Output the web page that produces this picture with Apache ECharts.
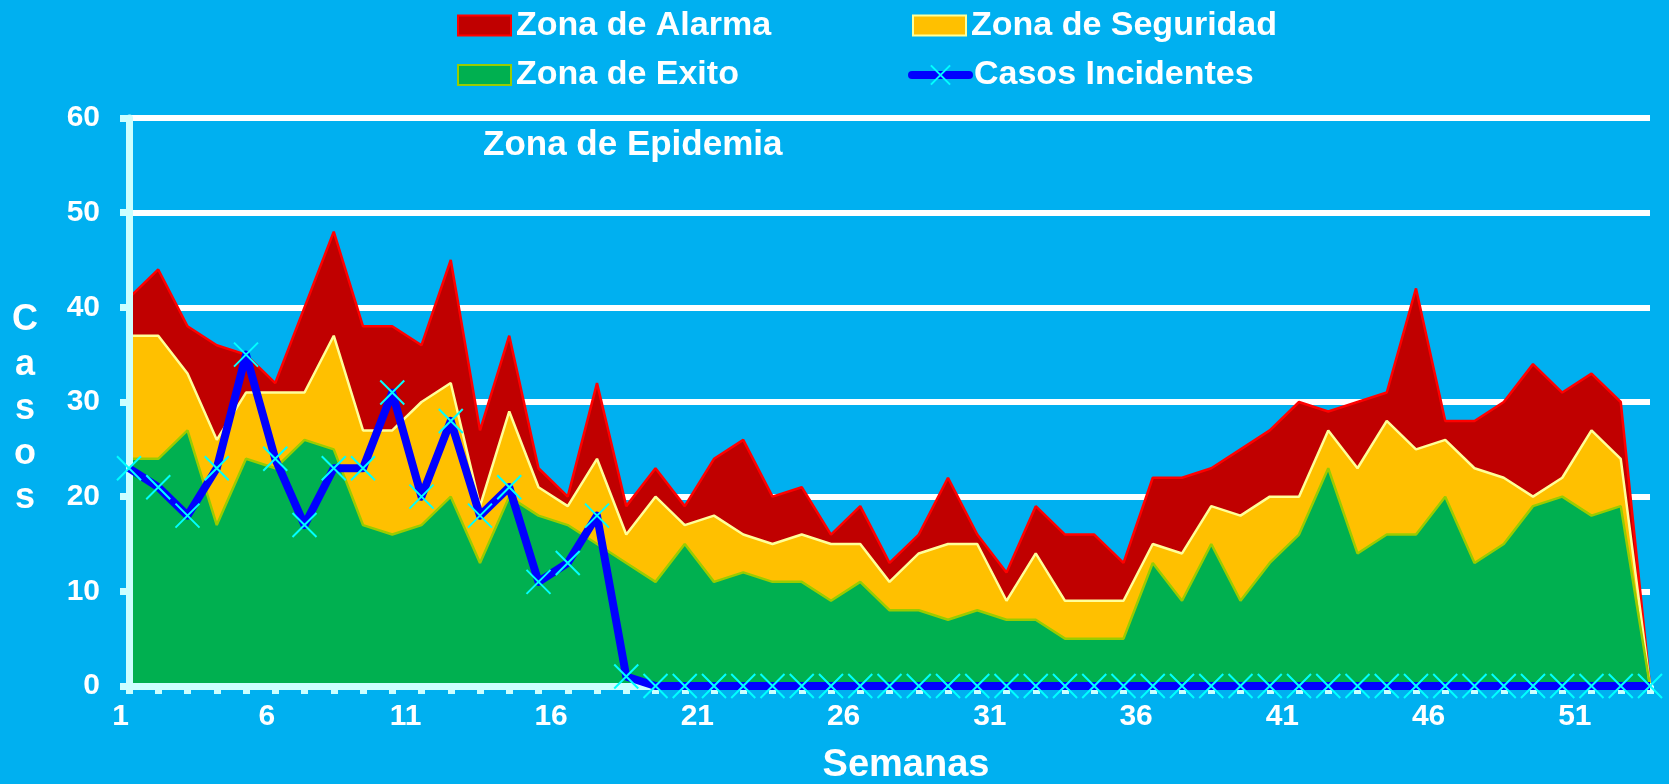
<!DOCTYPE html>
<html>
<head>
<meta charset="utf-8">
<script src="https://cdn.jsdelivr.net/npm/echarts@6/dist/echarts.min.js"></script>
<style>
html,body{margin:0;padding:0;background:#00B0F0;}
#c{width:1669px;height:784px;}
</style>
</head>
<body>
<div id="c"></div>
<script>
// ---- DATA ----
const semanas = ['1','2','3','4','5','6','7','8','9','10','11','12','13','14','15','16','17','18','19','20',
  '21','22','23','24','25','26','27','28','29','30','31','32','33','34','35','36','37','38','39','40',
  '41','42','43','44','45','46','47','48','49','50','51','52','53'];
const zonaAlarma = [41,44,38,36,35,32,40,48,38,38,36,45,27,37,23,20,32,19,23,19,
  24,26,20,21,16,19,13,16,22,16,12,19,16,16,13,22,22,23,25,27,
  30,29,30,31,42,28,28,30,34,31,33,30,0];
const zonaSeguridad = [37,37,33,26,31,31,31,37,27,27,30,32,19,29,21,19,24,16,20,17,
  18,16,15,16,15,15,11,14,15,15,9,14,9,9,9,15,14,19,18,20,
  20,27,23,28,25,26,23,22,20,22,27,24,0];
const zonaExito = [24,24,27,17,24,23,26,25,17,16,17,20,13,20,18,17,15,13,11,15,
  11,12,11,11,9,11,8,8,7,8,7,7,5,5,5,13,9,15,9,13,
  16,23,14,16,16,20,13,15,19,20,18,19,0];
const casosIncidentes = [23,21,18,23,35,24,17,23,23,31,20,28,18,21,11,13,18,1,0,0,
  0,0,0,0,0,0,0,0,0,0,0,0,0,0,0,0,0,0,0,0,
  0,0,0,0,0,0,0,0,0,0,0,0,0];
const yMin = 0, yMax = 60, yStep = 10;

// ---- STYLE ----
const FONT = '"Liberation Sans", Arial, Helvetica, sans-serif';
const AXIS_COLOR = '#CCFFFF';
const crossPath = 'path://M0,0L10,10M10,0L0,10';

const legendBase = {
  padding: 0,
  itemWidth: 53,
  itemHeight: 20,
  selectedMode: false,
  textStyle: {color: '#FFFFFF', fontSize: 34, fontWeight: 'bold', fontFamily: FONT, lineHeight: 34}
};

const chart = echarts.init(document.getElementById('c'), null, {renderer: 'canvas'});
chart.setOption({
  animation: false,
  backgroundColor: '#00B0F0',
  grid: {left: 129, right: 19, top: 118, bottom: 98, containLabel: false},
  legend: [
    Object.assign({}, legendBase, {left: 457, top: 8.5, data: [
      {name: 'Zona de Alarma', icon: 'rect', itemStyle: {color: '#C00000', borderColor: '#FF0000', borderWidth: 2}}]}),
    Object.assign({}, legendBase, {left: 912, top: 8.5, data: [
      {name: 'Zona de Seguridad', icon: 'rect', itemStyle: {color: '#FFC000', borderColor: '#FFFF99', borderWidth: 2}}]}),
    Object.assign({}, legendBase, {left: 457, top: 58, data: [
      {name: 'Zona de Exito', icon: 'rect', itemStyle: {color: '#00B050', borderColor: '#99CC00', borderWidth: 2}}]}),
    Object.assign({}, legendBase, {left: 908, top: 58, itemWidth: 57, itemHeight: 24, data: [
      {name: 'Casos Incidentes', lineStyle: {color: '#0000FF', width: 8, cap: 'round'},
       itemStyle: {color: '#00FFFF', borderColor: '#00FFFF', borderWidth: 2}}]})
  ],
  xAxis: {
    type: 'category',
    data: semanas,
    boundaryGap: false,
    z: 10,
    axisLine: {show: true, lineStyle: {color: AXIS_COLOR, width: 7}},
    axisTick: {show: true, interval: 0, length: 8, lineStyle: {color: AXIS_COLOR, width: 7}},
    axisLabel: {interval: 4, align: 'right', margin: 16, color: '#FFFFFF', fontSize: 30,
      fontWeight: 'bold', fontFamily: FONT, lineHeight: 30},
    splitLine: {show: false}
  },
  yAxis: [
    {
      type: 'value', min: yMin, max: yMax, interval: yStep, position: 'left', z: 0,
      axisLine: {show: false}, axisTick: {show: false}, axisLabel: {show: false},
      splitLine: {show: true, lineStyle: {color: '#FFFFFF', width: 6}}
    },
    {
      type: 'value', min: yMin, max: yMax, interval: yStep, position: 'left', offset: 0, z: 10,
      axisLine: {show: true, lineStyle: {color: AXIS_COLOR, width: 7}},
      axisTick: {show: true, length: 9, lineStyle: {color: AXIS_COLOR, width: 7}},
      axisLabel: {margin: 29, color: '#FFFFFF', fontSize: 30, fontWeight: 'bold', fontFamily: FONT},
      splitLine: {show: false}
    }
  ],
  series: [
    {
      name: 'Zona de Alarma', type: 'line', data: zonaAlarma, yAxisIndex: 0, z: 2,
      symbol: 'none', emphasis: {disabled: true},
      lineStyle: {color: '#FF0000', width: 2.5},
      itemStyle: {color: '#C00000'},
      areaStyle: {color: '#C00000', opacity: 1}
    },
    {
      name: 'Zona de Seguridad', type: 'line', data: zonaSeguridad, yAxisIndex: 0, z: 2,
      symbol: 'none', emphasis: {disabled: true},
      lineStyle: {color: '#FFFF99', width: 2.5},
      itemStyle: {color: '#FFC000'},
      areaStyle: {color: '#FFC000', opacity: 1}
    },
    {
      name: 'Zona de Exito', type: 'line', data: zonaExito, yAxisIndex: 0, z: 2,
      symbol: 'none', emphasis: {disabled: true},
      lineStyle: {color: '#99CC00', width: 2.5},
      itemStyle: {color: '#00B050'},
      areaStyle: {color: '#00B050', opacity: 1}
    },
    {
      name: 'Casos Incidentes', type: 'line', data: casosIncidentes, yAxisIndex: 0, z: 20,
      symbol: crossPath, symbolSize: 24, showAllSymbol: true, emphasis: {disabled: true},
      lineStyle: {color: '#0000FF', width: 8, join: 'round'},
      itemStyle: {color: '#00FFFF', borderColor: '#00FFFF', borderWidth: 2}
    }
  ],
  graphic: [
    {type: 'text', x: 483, y: 145, z: 30, style: {text: 'Zona de Epidemia', fill: '#FFFFFF',
      font: 'bold 35px ' + FONT, textAlign: 'left', textVerticalAlign: 'middle', align: 'left', verticalAlign: 'middle'}},
    {type: 'text', x: 906, y: 766, z: 30, style: {text: 'Semanas', fill: '#FFFFFF',
      font: 'bold 38px ' + FONT, textAlign: 'center', textVerticalAlign: 'middle', align: 'center', verticalAlign: 'middle'}},
    {type: 'text', x: 25, y: 409.5, z: 30, style: {text: 'C\na\ns\no\ns', fill: '#FFFFFF',
      font: 'bold 36px ' + FONT, lineHeight: 44.5, textAlign: 'center', textVerticalAlign: 'middle', align: 'center', verticalAlign: 'middle'}}
  ]
});
</script>
</body>
</html>
